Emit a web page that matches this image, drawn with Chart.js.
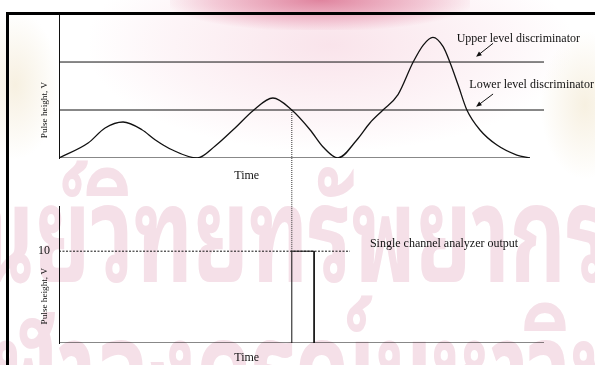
<!DOCTYPE html>
<html>
<head>
<meta charset="utf-8">
<script src="https://cdn.jsdelivr.net/npm/chart.js@4/dist/chart.umd.min.js"></script>
<style>
  html, body { margin: 0; padding: 0; background: #fff; }
  #page { position: relative; width: 595px; height: 365px; overflow: hidden; background: #fff; }
  #wash { position: absolute; left: 90px; top: -60px; width: 480px; height: 210px;
    background: radial-gradient(ellipse at center, rgba(245,205,218,0.55) 0%, rgba(250,228,235,0.35) 50%, rgba(255,255,255,0) 72%); }
  #glow { position: absolute; left: 170px; top: -30px; width: 300px; height: 60px;
    background: radial-gradient(ellipse at center, rgba(214,96,130,0.75) 0%, rgba(232,150,175,0.45) 50%, rgba(255,255,255,0) 75%); }
  .seal { position: absolute; width: 90px; height: 150px;
    background: radial-gradient(ellipse at center, rgba(240,228,200,0.55) 0%, rgba(255,255,255,0) 70%); }
  .wm { position: absolute; white-space: nowrap; color: #f5e0e8; transform-origin: 0 0;
    font-family: "Noto Sans Thai Looped", "Noto Serif Thai", "Noto Sans Thai", "Loma", "Garuda", sans-serif; font-weight: bold; }
  #frame { position: absolute; left: 6px; top: 12px; width: 600px; height: 360px;
    border-left: 3px solid #000; border-top: 3px solid #000; }
  canvas { position: absolute; left: 0; }
  #top { top: 0; }
  #bottom { top: 190px; }
</style>
</head>
<body>
<div id="page">
  <div id="wash"></div>
  <div id="glow"></div>
  <div class="seal" style="left:-30px; top:10px;"></div>
  <div class="seal" style="left:540px; top:30px;"></div>
  <div class="wm" style="left:-80px; top:113px; font-size:135px; transform: scaleX(0.64);">ศูนย์วิทยทรัพยากร</div>
  <div class="wm" style="left:-55px; top:248px; font-size:135px; transform: scaleX(0.64);">จุฬาลงกรณ์มหาวิทยาลัย</div>
  <div id="frame"></div>
  <canvas id="top" width="595" height="190"></canvas>
  <canvas id="bottom" width="595" height="175"></canvas>
</div>
<script>
// detector pulse train (time in arbitrary units, height in V)
const pulseTime = [0, 6, 9.5, 13.2, 17.1, 19.8, 23.3, 28.5, 32.2, 36.3, 40, 44.1, 48, 51.8, 54.4, 57.5,
  61.4, 64.1, 66.8, 69.9, 73, 75.1, 77.1, 79.2, 80.6, 82.3, 84.1, 86.8, 90.3, 94.4, 97.1];
const pulseHeight = [0, 1.56, 3.13, 3.75, 2.95, 1.91, 0.86, 0, 1.25, 3.13, 4.93, 6.25, 5.0, 2.92, 1.18, 0,
  1.88, 3.65, 5.0, 6.6, 9.97, 11.77, 12.57, 11.6, 9.97, 7.6, 5.0, 2.92, 1.35, 0.31, 0];

const lowerLevel = 5;
const upperLevel = 10;

// single channel analyzer output
const scaHeight = 10;
const gateStart = 48;
const gateEnd = 52.6;
const dashedEnd = 60;
const yTicks = [scaHeight];

const timeMax = 100;
const heightMax = 14.9;

const serif = "'Liberation Serif', 'Times New Roman', serif";

function pts(xs, ys) {
	return xs.map((x, i) => ({ x: x, y: ys[i] }));
}

function lineSet(data, extra) {
	return Object.assign({
		data: data,
		borderColor: "#111",
		borderWidth: 1,
		pointRadius: 0,
		fill: false,
		tension: 0,
	}, extra || {});
}

// draws labels and arrows placed in data coordinates
const notes = {
	id: "notes",
	afterDatasetsDraw(chart, args, opts) {
		const { ctx, scales: { x, y } } = chart;
		ctx.save();
		ctx.fillStyle = "#111";
		ctx.strokeStyle = "#111";
		for (const t of opts.texts || []) {
			ctx.save();
			ctx.font = (t.size || 12) + "px " + serif;
			ctx.textAlign = t.align || "left";
			ctx.textBaseline = t.baseline || "alphabetic";
			const px = t.px !== undefined ? chart.chartArea.left + t.px : x.getPixelForValue(t.x);
			ctx.translate(px, y.getPixelForValue(t.y));
			if (t.rotate) ctx.rotate(t.rotate);
			ctx.fillText(t.text, 0, 0);
			ctx.restore();
		}
		for (const a of opts.arrows || []) {
			const x0 = x.getPixelForValue(a.from[0]), y0 = y.getPixelForValue(a.from[1]);
			const x1 = x.getPixelForValue(a.to[0]), y1 = y.getPixelForValue(a.to[1]);
			const ang = Math.atan2(y1 - y0, x1 - x0);
			ctx.lineWidth = 1;
			ctx.beginPath();
			ctx.moveTo(x0, y0);
			ctx.lineTo(x1 - 3 * Math.cos(ang), y1 - 3 * Math.sin(ang));
			ctx.stroke();
			ctx.beginPath();
			ctx.moveTo(x1, y1);
			ctx.lineTo(x1 - 6 * Math.cos(ang - 0.4), y1 - 6 * Math.sin(ang - 0.4));
			ctx.lineTo(x1 - 6 * Math.cos(ang + 0.4), y1 - 6 * Math.sin(ang + 0.4));
			ctx.closePath();
			ctx.fill();
		}
		ctx.restore();
	},
};

function scales(tickValues) {
	return {
		x: {
			type: "linear",
			min: 0,
			max: timeMax,
			grid: { display: false, drawTicks: false },
			border: { display: false },
			ticks: { display: false },
			afterFit: (s) => { s.height = 0; },
		},
		y: {
			min: 0,
			max: heightMax,
			grid: { display: false, drawTicks: false },
			border: { display: true, color: "#111", width: 1 },
			ticks: {
				display: tickValues.length > 0,
				padding: 9,
				color: "#111",
				font: { family: serif, size: 12 },
			},
			afterBuildTicks: (s) => { s.ticks = tickValues.map((v) => ({ value: v })); },
			afterFit: (s) => { s.width = 59; },
		},
	};
}

const common = {
	responsive: false,
	animation: false,
	events: [],
	plugins: { legend: { display: false }, tooltip: { enabled: false } },
};

new Chart(document.getElementById("top"), {
	type: "line",
	data: {
		datasets: [
			lineSet(pts([0, pulseTime[pulseTime.length - 1]], [0, 0])),
			lineSet(pts([0, timeMax], [upperLevel, upperLevel])),
			lineSet(pts([0, timeMax], [lowerLevel, lowerLevel])),
			lineSet(pts(pulseTime, pulseHeight), { borderWidth: 1.3, cubicInterpolationMode: "monotone" }),
			// drop line from the lower-level crossing down to the output pulse
			lineSet(pts([gateStart, gateStart], [lowerLevel, -8]), { borderDash: [1, 1], clip: false, borderColor: "#333" }),
		],
	},
	options: Object.assign({}, common, {
		layout: { padding: { left: 0, right: 51, top: 15, bottom: 32 } },
		scales: scales([]),
		plugins: Object.assign({}, common.plugins, {
			notes: {
				texts: [
					{ text: "Upper level discriminator", x: 82.0, y: 12.1 },
					{ text: "Lower level discriminator", x: 84.6, y: 7.25 },
					{ text: "Time", x: 38.7, y: -2.2, align: "center" },
					{ text: "Pulse height, V", px: -14, y: 5, size: 9.2, align: "center", baseline: "middle", rotate: -Math.PI / 2 },
				],
				arrows: [
					{ from: [89.5, 11.95], to: [86.0, 10.55] },
					{ from: [89.5, 6.67], to: [86.0, 5.34] },
				],
			},
		}),
	}),
	plugins: [notes],
});

new Chart(document.getElementById("bottom"), {
	type: "line",
	data: {
		datasets: [
			lineSet(pts([0, timeMax], [0, 0])),
			lineSet(pts([0, dashedEnd], [scaHeight, scaHeight]), { borderDash: [2, 1.5] }),
			lineSet(pts([gateStart, gateStart, gateEnd, gateEnd], [0, scaHeight, scaHeight, 0])),
			lineSet(pts([gateStart, gateStart], [scaHeight, 20]), { borderDash: [1, 1], clip: false, borderColor: "#333" }),
		],
	},
	options: Object.assign({}, common, {
		layout: { padding: { left: 0, right: 51, top: 10, bottom: 22 } },
		scales: scales(yTicks),
		plugins: Object.assign({}, common.plugins, {
			notes: {
				texts: [
					{ text: "Single channel analyzer output", x: 64.1, y: 10.5 },
					{ text: "Time", x: 38.7, y: -1.95, align: "center" },
					{ text: "Pulse height, V", px: -14, y: 5.1, size: 9.2, align: "center", baseline: "middle", rotate: -Math.PI / 2 },
				],
			},
		}),
	}),
	plugins: [notes],
});
</script>
</body>
</html>
